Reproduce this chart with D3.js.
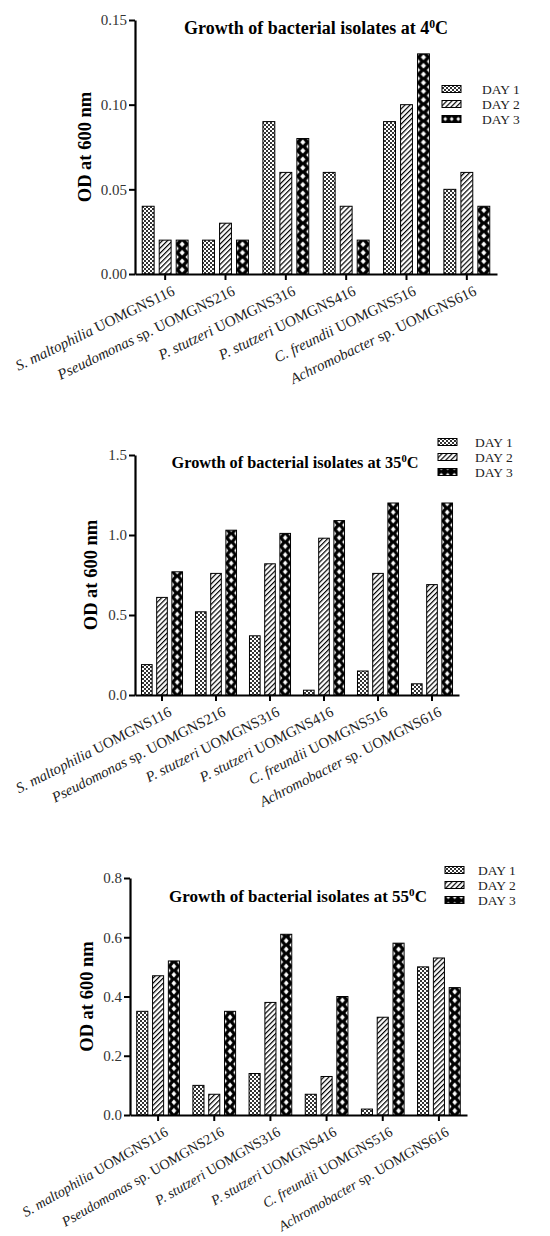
<!DOCTYPE html>
<html>
<head>
<meta charset="utf-8">
<script src="https://cdn.jsdelivr.net/npm/d3@7"></script>
<style>
  body { margin: 0; background: #fff; }
  svg { display: block; }
</style>
</head>
<body>
<script>
// isolate names: italic species part + plain strain part
var isolateItalic = ["S. maltophilia", "Pseudomonas", "P. stutzeri", "P. stutzeri", "C. freundii", "Achromobacter"];
var isolatePlain  = [" UOMGNS116", " sp. UOMGNS216", " UOMGNS316", " UOMGNS416", " UOMGNS516", " sp. UOMGNS616"];
var days = ["DAY 1", "DAY 2", "DAY 3"];

// OD600 at 4 C
var od4_day1 = [0.04, 0.02, 0.09, 0.06, 0.09, 0.05];
var od4_day2 = [0.02, 0.03, 0.06, 0.04, 0.10, 0.06];
var od4_day3 = [0.02, 0.02, 0.08, 0.02, 0.13, 0.04];
// OD600 at 35 C
var od35_day1 = [0.19, 0.52, 0.37, 0.03, 0.15, 0.07];
var od35_day2 = [0.61, 0.76, 0.82, 0.98, 0.76, 0.69];
var od35_day3 = [0.77, 1.03, 1.01, 1.09, 1.20, 1.20];
// OD600 at 55 C
var od55_day1 = [0.35, 0.10, 0.14, 0.07, 0.02, 0.50];
var od55_day2 = [0.47, 0.07, 0.38, 0.13, 0.33, 0.53];
var od55_day3 = [0.52, 0.35, 0.61, 0.40, 0.58, 0.43];

var ticks4  = [0, 0.05, 0.10, 0.15];
var ticks35 = [0, 0.5, 1.0, 1.5];
var ticks55 = [0, 0.2, 0.4, 0.6, 0.8];

// layout of the three stacked panels
var panels = [
  { temp: "4",  vals: [od4_day1, od4_day2, od4_day3],    ticks: ticks4,  fmt: ".2f",
    x0: 135, x1: 497, yTop: 20,  yBot: 274, titleX: 316, titleY: 34,  titleSize: 18,
    legX: 442, legY: 89,  legTx: 482, ylabX: 91, labSize: 15, labAngle: -26 },
  { temp: "35", vals: [od35_day1, od35_day2, od35_day3], ticks: ticks35, fmt: ".1f",
    x0: 135, x1: 459, yTop: 455, yBot: 695, titleX: 295, titleY: 468, titleSize: 16.3,
    legX: 438, legY: 442, legTx: 475, ylabX: 97, labSize: 14.8, labAngle: -27 },
  { temp: "55", vals: [od55_day1, od55_day2, od55_day3], ticks: ticks55, fmt: ".1f",
    x0: 130, x1: 467, yTop: 878, yBot: 1115, titleX: 298, titleY: 902, titleSize: 17,
    legX: 445, legY: 870, legTx: 478, ylabX: 93, labSize: 14.2, labAngle: -30 }
];

var W = 550, H = 1236;
var serif = "'Liberation Serif', 'Times New Roman', serif";

var svg = d3.select("body").append("svg")
    .attr("width", W).attr("height", H)
    .style("font-family", serif);

var defs = svg.append("defs");

// DAY 1: fine checker
var p1 = defs.append("pattern").attr("id", "pDay1")
    .attr("patternUnits", "userSpaceOnUse").attr("width", 4).attr("height", 4);
p1.append("rect").attr("width", 4).attr("height", 4).attr("fill", "#fff");
p1.append("rect").attr("width", 2).attr("height", 2).attr("fill", "#333");
p1.append("rect").attr("x", 2).attr("y", 2).attr("width", 2).attr("height", 2).attr("fill", "#333");

// DAY 2: diagonal hatch
var p2 = defs.append("pattern").attr("id", "pDay2")
    .attr("patternUnits", "userSpaceOnUse").attr("width", 3.6).attr("height", 3.6)
    .attr("patternTransform", "rotate(45)");
p2.append("rect").attr("width", 3.6).attr("height", 3.6).attr("fill", "#fff");
p2.append("line").attr("x1", 0.6).attr("y1", 0).attr("x2", 0.6).attr("y2", 3.6)
    .attr("stroke", "#000").attr("stroke-width", 1.2);

// DAY 3: black with white diamond chain, one pattern per bar so it lines up
function diamondPattern(id, x, y, w, h, horizontal) {
  var p = defs.append("pattern").attr("id", id)
      .attr("patternUnits", "userSpaceOnUse")
      .attr("x", x).attr("y", y).attr("width", w).attr("height", h);
  p.append("rect").attr("width", w).attr("height", h).attr("fill", "#000");
  var dx = horizontal ? 2 : w * 0.22, dy = horizontal ? h * 0.28 : 2.8;
  var pts = [[w / 2, h / 2]];
  if (!horizontal) pts.push([0, 0], [0, h], [w, 0], [w, h]);
  pts.forEach(function (c) {
    p.append("polygon").attr("fill", "#fff")
      .attr("points", [[c[0], c[1] - dy], [c[0] + dx, c[1]], [c[0], c[1] + dy], [c[0] - dx, c[1]]].join(" "));
  });
}

panels.forEach(function (P, pi) {
  var g = svg.append("g");

  var x = d3.scaleBand().domain(d3.range(isolateItalic.length))
      .range([P.x0, P.x1]).paddingInner(0.24).paddingOuter(0.12);
  var xi = d3.scaleBand().domain(d3.range(days.length))
      .range([0, x.bandwidth()]).paddingInner(0.3);
  var y = d3.scaleLinear().domain([0, d3.max(P.ticks)]).range([P.yBot, P.yTop]);

  // bars
  P.vals.forEach(function (series, di) {
    g.selectAll(".bar" + di).data(series).enter().append("rect")
      .attr("x", function (d, i) { return x(i) + xi(di); })
      .attr("y", function (d) { return y(d); })
      .attr("width", xi.bandwidth())
      .attr("height", function (d) { return y(0) - y(d); })
      .attr("fill", function (d, i) {
        if (di === 0) return "url(#pDay1)";
        if (di === 1) return "url(#pDay2)";
        var id = "pDay3_" + pi + "_" + i;
        diamondPattern(id, x(i) + xi(di), y(0), xi.bandwidth(), 8.5, false);
        return "url(#" + id + ")";
      })
      .attr("stroke", "#000").attr("stroke-width", 1);
  });

  // y axis
  var yAxis = g.append("g").attr("transform", "translate(" + P.x0 + ",0)")
      .call(d3.axisLeft(y).tickValues(P.ticks).tickFormat(d3.format(P.fmt))
        .tickSize(6).tickSizeOuter(0).tickPadding(2));
  yAxis.select(".domain").attr("stroke-width", 2.2);
  yAxis.selectAll(".tick line").attr("stroke-width", 2);
  yAxis.selectAll(".tick text").attr("font-family", serif)
      .attr("font-size", 15).attr("fill", "#333");

  // x axis
  var xAxis = g.append("g").attr("transform", "translate(0," + P.yBot + ")")
      .call(d3.axisBottom(x).tickFormat("").tickSize(6).tickSizeOuter(0));
  xAxis.select(".domain").attr("stroke-width", 2.2);
  xAxis.selectAll(".tick line").attr("stroke-width", 2);

  // rotated isolate labels
  var lab = g.selectAll(".xlab").data(isolateItalic).enter().append("text")
      .attr("text-anchor", "end")
      .attr("font-size", P.labSize).attr("fill", "#222")
      .attr("transform", function (d, i) {
        return "translate(" + (x(i) + x.bandwidth() / 2 + 6) + "," + (P.yBot + 11) + ") rotate(" + P.labAngle + ")";
      })
      .attr("dy", "0.7em");
  lab.append("tspan").attr("font-style", "italic").text(function (d) { return d; });
  lab.append("tspan").text(function (d, i) { return isolatePlain[i]; });

  // y label
  g.append("text")
      .attr("transform", "translate(" + P.ylabX + "," + ((P.yTop + P.yBot) / 2) + ") rotate(-90)")
      .attr("text-anchor", "middle")
      .attr("font-weight", "bold").attr("font-size", 18.5)
      .text("OD at 600 nm");

  // title
  var t = g.append("text").attr("x", P.titleX).attr("y", P.titleY)
      .attr("text-anchor", "middle").attr("font-weight", "bold").attr("font-size", P.titleSize);
  t.append("tspan").text("Growth of bacterial isolates at " + P.temp);
  t.append("tspan").attr("dy", -6).attr("font-size", P.titleSize * 0.65).text("0");
  t.append("tspan").attr("dy", 6).text("C");

  // legend
  var leg = g.selectAll(".leg").data(days).enter().append("g")
      .attr("transform", function (d, i) { return "translate(0," + (P.legY + i * 15) + ")"; });
  leg.append("rect")
      .attr("x", P.legX).attr("y", -3.5).attr("width", 19).attr("height", 7)
      .attr("stroke", "#000").attr("stroke-width", 1)
      .attr("fill", function (d, i) {
        if (i === 0) return "url(#pDay1)";
        if (i === 1) return "url(#pDay2)";
        var id = "pLeg3_" + pi;
        diamondPattern(id, P.legX, P.legY + i * 15 - 3.5, 6.5, 7, true);
        return "url(#" + id + ")";
      });
  leg.append("text").attr("x", P.legTx).attr("y", 0).attr("dy", "0.35em")
      .attr("font-size", 13.5).attr("fill", "#222")
      .text(function (d) { return d; });
});
</script>
</body>
</html>
